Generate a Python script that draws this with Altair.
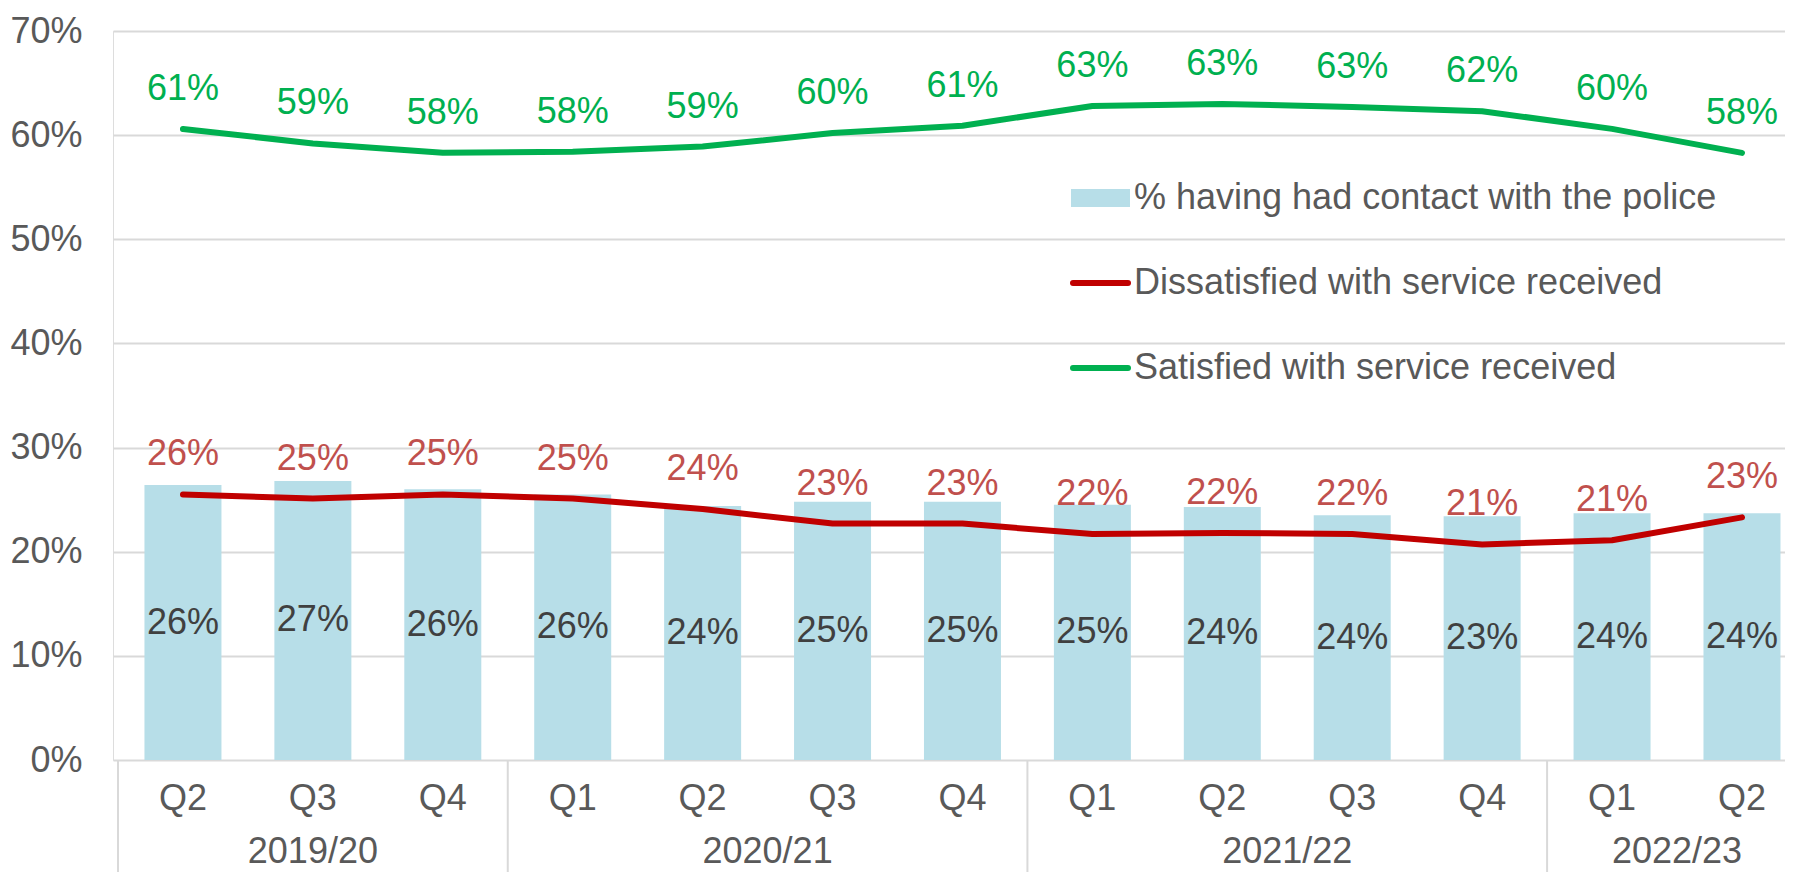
import altair as alt
import pandas as pd

# ---- data ----
quarters = ["Q2", "Q3", "Q4", "Q1", "Q2", "Q3", "Q4", "Q1", "Q2", "Q3", "Q4", "Q1", "Q2"]
years = ["2019/20", "2020/21", "2021/22", "2022/23"]
year_counts = [3, 4, 4, 2]
contact = [26.4, 26.8, 26.0, 25.5, 24.4, 24.8, 24.8, 24.5, 24.3, 23.5, 23.4, 23.7, 23.7]
contact_labels = ["26%", "27%", "26%", "26%", "24%", "25%", "25%", "25%", "24%", "24%", "23%", "24%", "24%"]
dissatisfied = [25.5, 25.1, 25.5, 25.1, 24.1, 22.7, 22.7, 21.7, 21.8, 21.7, 20.7, 21.1, 23.3]
dissatisfied_labels = ["26%", "25%", "25%", "25%", "24%", "23%", "23%", "22%", "22%", "22%", "21%", "21%", "23%"]
satisfied = [60.6, 59.2, 58.3, 58.4, 58.9, 60.2, 60.9, 62.8, 63.0, 62.7, 62.3, 60.6, 58.3]
satisfied_labels = ["61%", "59%", "58%", "58%", "59%", "60%", "61%", "63%", "63%", "63%", "62%", "60%", "58%"]
y_ticks = [0, 10, 20, 30, 40, 50, 60, 70]

S_CONTACT = "% having had contact with the police"
S_DIS = "Dissatisfied with service received"
S_SAT = "Satisfied with service received"
C_CONTACT, C_DIS, C_SAT = "#b7dee8", "#c00000", "#00b050"

# ---- tables ----
n = len(quarters)
idx = list(range(n))
bars = pd.DataFrame({"idx": idx, "value": contact, "label": contact_labels,
                     "series": S_CONTACT})
lines = pd.concat([
    pd.DataFrame({"idx": idx, "value": dissatisfied, "label": dissatisfied_labels, "series": S_DIS}),
    pd.DataFrame({"idx": idx, "value": satisfied, "label": satisfied_labels, "series": S_SAT}),
])
qdf = pd.DataFrame({"idx": idx, "q": quarters})
starts, pos = [], 0
for c in year_counts:
    starts.append(pos)
    pos += c
ydf = pd.DataFrame({"pos": [s + (c - 1) / 2 for s, c in zip(starts, year_counts)], "year": years})
sepdf = pd.DataFrame({"pos": [s - 0.5 for s in starts]})

# ---- layout ----
FONT = "Liberation Sans"
FS = 36
PLOT_W = 1672
PLOT_H = 729
BOTTOM = 112
STEP = 130.7
xmax = PLOT_W / STEP - 0.5

xscale = alt.Scale(domain=[-0.5, xmax], nice=False, zero=False)
yscale = alt.Scale(domain=[0, 70], nice=False, zero=True)
yaxis = alt.Axis(values=y_ticks, labelExpr="datum.value + '%'", grid=True,
                 gridColor="#d9d9d9", gridWidth=2, domain=False, ticks=False,
                 labelPadding=31, title=None, labelFontSize=FS, labelColor="#595959",
                 labelFont=FONT)

color_scale = alt.Scale(domain=[S_CONTACT, S_DIS, S_SAT],
                        range=[C_CONTACT, C_DIS, C_SAT])

X = alt.X("idx:Q", scale=xscale, axis=None)
Y = alt.Y("value:Q", scale=yscale, axis=yaxis)

bar_layer = alt.Chart(bars).mark_bar(size=77).encode(
    x=X, y=Y, color=alt.Color("series:N", scale=color_scale, legend=None))

bar_text = alt.Chart(bars).transform_calculate(half="datum.value / 2").mark_text(
    font=FONT, fontSize=FS, color="#404040", baseline="middle").encode(
    x=X, y=alt.Y("half:Q", scale=yscale, axis=yaxis), text="label:N")

line_layer = alt.Chart(lines).mark_line(strokeWidth=6, strokeCap="round", strokeJoin="round").encode(
    x=X, y=Y, color=alt.Color("series:N", scale=color_scale, legend=None))

dis_text = alt.Chart(lines).transform_filter(alt.datum.series == S_DIS).mark_text(
    font=FONT, fontSize=FS, color="#c0504d", baseline="middle", dy=-40).encode(
    x=X, y=Y, text="label:N")
sat_text = alt.Chart(lines).transform_filter(alt.datum.series == S_SAT).mark_text(
    font=FONT, fontSize=FS, color="#00b050", baseline="middle", dy=-40).encode(
    x=X, y=Y, text="label:N")

sep = alt.Chart(sepdf).mark_rule(color="#d9d9d9", strokeWidth=2).encode(
    x=alt.X("pos:Q", scale=xscale, axis=None),
    y=alt.value(PLOT_H), y2=alt.value(PLOT_H + BOTTOM))

q_text = alt.Chart(qdf).mark_text(font=FONT, fontSize=FS, color="#595959",
                                  baseline="middle").encode(
    x=X, y=alt.value(PLOT_H + 39), text="q:N")
y_text = alt.Chart(ydf).mark_text(font=FONT, fontSize=FS, color="#595959",
                                  baseline="middle").encode(
    x=alt.X("pos:Q", scale=xscale, axis=None), y=alt.value(PLOT_H + 92), text="year:N")

# ---- legend (drawn in pixel space, inside the plot) ----
LEG_SYM_X0, LEG_SYM_X1, LEG_TEXT_X = 958, 1015, 1021
LEG_ROWS = [167, 252, 337]
legend_layers = []
for (label, colr, row) in zip([S_CONTACT, S_DIS, S_SAT], [C_CONTACT, C_DIS, C_SAT], LEG_ROWS):
    ldf = pd.DataFrame({"t": [label]})
    if label == S_CONTACT:
        sym = alt.Chart(ldf).mark_rect(color=colr).encode(
            x=alt.value(LEG_SYM_X0), x2=alt.value(LEG_SYM_X1 + 2),
            y=alt.value(row - 9), y2=alt.value(row + 9))
    else:
        sym = alt.Chart(ldf).mark_rule(color=colr, strokeWidth=6, strokeCap="round").encode(
            x=alt.value(LEG_SYM_X0 + 2), x2=alt.value(LEG_SYM_X1),
            y=alt.value(row))
    txt = alt.Chart(ldf).mark_text(font=FONT, fontSize=FS, color="#595959",
                                   align="left", baseline="middle").encode(
        x=alt.value(LEG_TEXT_X), y=alt.value(row), text="t:N")
    legend_layers += [sym, txt]

chart = alt.layer(bar_layer, bar_text, line_layer, dis_text, sat_text, sep, q_text, y_text,
                  *legend_layers).properties(
    width=PLOT_W, height=PLOT_H,
    autosize=alt.AutoSizeParams(type="none"),
    padding={"left": 105, "top": 23, "right": 0, "bottom": BOTTOM},
).configure_view(stroke=None).configure(background="white")

chart.save("out.html", embed_options={"renderer": "svg", "actions": False})
